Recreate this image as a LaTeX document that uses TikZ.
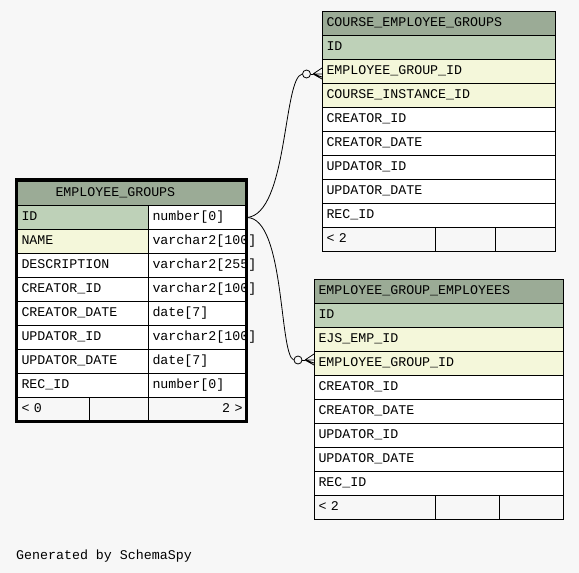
\documentclass[tikz,border=0pt]{standalone}
\usepackage{fontspec}
\newfontfamily\schemafont{Liberation Mono}
\usetikzlibrary{
    calc,
    backgrounds
}
\definecolor{diagrambg}{HTML}{F7F7F7}
\definecolor{tablehead}{HTML}{9BAB96}
\definecolor{primarykey}{HTML}{BED1B8}
\definecolor{indexed}{HTML}{F4F7DA}
\definecolor{ink}{RGB}{0,0,0}
\tikzset{
    line cap=round,
    line join=round,
    tablecell/.style={
        rectangle,
        draw=ink,
        line width=1pt,
        anchor=north west,
        minimum height=24pt,
        inner xsep=4pt,
        inner ysep=0pt,
        text height=9pt,
        text depth=3pt,
        align=left,
        font=\schemafont\fontsize{13.3pt}{16pt}\selectfont,
        text=ink
    },
    headcell/.style={tablecell, fill=tablehead},
    keycell/.style={tablecell, fill=primarykey},
    indexcell/.style={tablecell, fill=indexed},
    plaincell/.style={tablecell, fill=white},
    footcell/.style={tablecell, fill=diagrambg},
    focusframe/.style={
        draw=ink,
        line width=3pt,
        line cap=butt
    },
    relation/.style={
        draw=ink,
        line width=0.8pt
    },
    crowring/.style={
        circle,
        draw=ink,
        line width=0.8pt,
        fill=diagrambg,
        minimum size=8pt,
        inner sep=0pt
    },
    annot/.style={
        font=\schemafont\fontsize{13.3pt}{16pt}\selectfont,
        text=ink,
        inner sep=0pt
    }
}

\begin{document}
\begin{tikzpicture}[x=1pt, y=-1pt]

% Canvas
\useasboundingbox (0,0) rectangle (579,573);
\fill[diagrambg] (0,0) rectangle (579,573);

% Focus table: EMPLOYEE_GROUPS
\node[headcell, text width=221pt] (eg-head) at (17,181) {\hspace*{34pt}EMPLOYEE\_GROUPS};
\node[keycell, text width=123pt] (eg-id) at (17,205) {ID};
\node[plaincell, text width=90pt] (eg-id-type) at (148,205) {number[0]};
\node[indexcell, text width=123pt] (eg-name) at (17,229) {NAME};
\node[plaincell, text width=90pt] (eg-name-type) at (148,229) {varchar2[100]};
\node[plaincell, text width=123pt] (eg-desc) at (17,253) {DESCRIPTION};
\node[plaincell, text width=90pt] (eg-desc-type) at (148,253) {varchar2[255]};
\node[plaincell, text width=123pt] (eg-cid) at (17,277) {CREATOR\_ID};
\node[plaincell, text width=90pt] (eg-cid-type) at (148,277) {varchar2[100]};
\node[plaincell, text width=123pt] (eg-cdate) at (17,301) {CREATOR\_DATE};
\node[plaincell, text width=90pt] (eg-cdate-type) at (148,301) {date[7]};
\node[plaincell, text width=123pt] (eg-uid) at (17,325) {UPDATOR\_ID};
\node[plaincell, text width=90pt] (eg-uid-type) at (148,325) {varchar2[100]};
\node[plaincell, text width=123pt] (eg-udate) at (17,349) {UPDATOR\_DATE};
\node[plaincell, text width=90pt] (eg-udate-type) at (148,349) {date[7]};
\node[plaincell, text width=123pt] (eg-rec) at (17,373) {REC\_ID};
\node[plaincell, text width=90pt] (eg-rec-type) at (148,373) {number[0]};
\node[footcell, text width=64pt] (eg-parents) at (17,397) {< 0};
\node[footcell, text width=51pt] (eg-blank) at (89,397) {};
\node[footcell, text width=90pt, align=right] (eg-children) at (148,397) {2 >};
\draw[focusframe] (16.5,179.5) rectangle (246.5,421.5);

% Child table: COURSE_EMPLOYEE_GROUPS
\node[headcell, text width=225pt] (ceg-head) at (322,11) {COURSE\_EMPLOYEE\_GROUPS};
\node[keycell, text width=225pt] (ceg-id) at (322,35) {ID};
\node[indexcell, text width=225pt] (ceg-grp) at (322,59) {EMPLOYEE\_GROUP\_ID};
\node[indexcell, text width=225pt] (ceg-inst) at (322,83) {COURSE\_INSTANCE\_ID};
\node[plaincell, text width=225pt] (ceg-cid) at (322,107) {CREATOR\_ID};
\node[plaincell, text width=225pt] (ceg-cdate) at (322,131) {CREATOR\_DATE};
\node[plaincell, text width=225pt] (ceg-uid) at (322,155) {UPDATOR\_ID};
\node[plaincell, text width=225pt] (ceg-udate) at (322,179) {UPDATOR\_DATE};
\node[plaincell, text width=225pt] (ceg-rec) at (322,203) {REC\_ID};
\node[footcell, text width=105pt] (ceg-parents) at (322,227) {< 2};
\node[footcell, text width=52pt] (ceg-blank) at (435,227) {};
\node[footcell, text width=52pt] (ceg-children) at (495,227) {};

% Child table: EMPLOYEE_GROUP_EMPLOYEES
\node[headcell, text width=241pt] (ege-head) at (314,279) {EMPLOYEE\_GROUP\_EMPLOYEES};
\node[keycell, text width=241pt] (ege-id) at (314,303) {ID};
\node[indexcell, text width=241pt] (ege-emp) at (314,327) {EJS\_EMP\_ID};
\node[indexcell, text width=241pt] (ege-grp) at (314,351) {EMPLOYEE\_GROUP\_ID};
\node[plaincell, text width=241pt] (ege-cid) at (314,375) {CREATOR\_ID};
\node[plaincell, text width=241pt] (ege-cdate) at (314,399) {CREATOR\_DATE};
\node[plaincell, text width=241pt] (ege-uid) at (314,423) {UPDATOR\_ID};
\node[plaincell, text width=241pt] (ege-udate) at (314,447) {UPDATOR\_DATE};
\node[plaincell, text width=241pt] (ege-rec) at (314,471) {REC\_ID};
\node[footcell, text width=113pt] (ege-parents) at (314,495) {< 2};
\node[footcell, text width=56pt] (ege-blank) at (435,495) {};
\node[footcell, text width=56pt] (ege-children) at (499,495) {};

% Relationships
\node[crowring] (ring-ceg) at (306.5,74) {};
\node[crowring] (ring-ege) at (298,360) {};
\coordinate (foot-ceg) at (313,74);
\coordinate (foot-ege) at (305,360);

\draw[relation] (eg-id-type.east) .. controls (288,214) and (283,78) .. (ring-ceg.west);
\draw[relation] (ring-ceg.east) -- (foot-ceg);
\draw[relation] (foot-ceg) -- ++(9,-6) (foot-ceg) -- ++(9,0) (foot-ceg) -- ++(9,3) (foot-ceg) -- ++(9,5);

\draw[relation] (eg-id-type.east) .. controls (285,218) and (279,354) .. (ring-ege.west);
\draw[relation] (ring-ege.east) -- (foot-ege);
\draw[relation] (foot-ege) -- ++(9,-6) (foot-ege) -- ++(9,0) (foot-ege) -- ++(9,3) (foot-ege) -- ++(9,5);

% Footer
\node[annot, anchor=base west] (generated) at (16,559) {Generated by SchemaSpy};

\end{tikzpicture}
\end{document}
